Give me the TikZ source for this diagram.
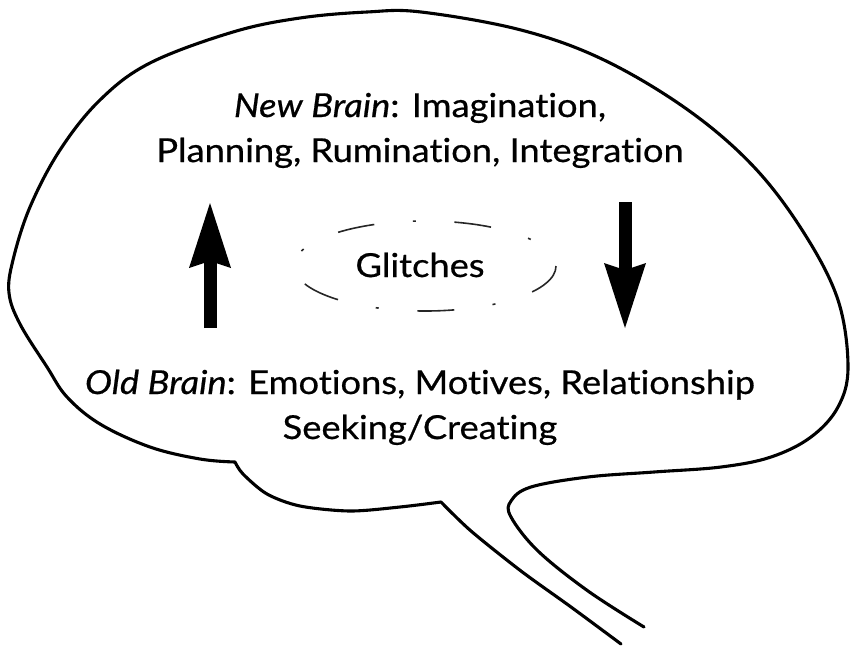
\documentclass[tikz,border=0pt]{standalone}
\usepackage{fontspec}
\setmainfont{Lato}[Ligatures=NoCommon, FakeStretch=1.1, FakeBold=0.6]
\usetikzlibrary{arrows.meta}
\tikzset{
  bubble/.style={line width=3.1pt, line cap=round, line join=round},
  brain/.style={font=\fontsize{33}{45}\selectfont, align=center, inner sep=0pt},
  flow/.style={line width=13pt, -{Stealth[length=65pt,width=42pt,inset=7pt,line width=0pt]}},
  glitchring/.style={line width=1.6pt, black!85, dash pattern=on 37pt off 38.7pt on 3pt off 38.6pt}
}
\begin{document}
\begin{tikzpicture}[x=1pt,y=-1pt]
\useasboundingbox (0,0) rectangle (851,648);
\draw[bubble] plot[smooth] coordinates {(621,644) (571,607) (521,571) (471,531) (441,502)}
  -- plot[smooth] coordinates {(441,502) (400,507) (350,511) (300,506) (267,494) (243,474) (235,462)}
  -- plot[smooth, tension=0.6] coordinates {(235,462) (200,459) (150,447) (100,424) (67,397) (47,367)
     (20,324) (9,293) (13,260) (30,207) (60,150) (100,100) (150,63) (233,32) (300,18) (367,12)
     (421,12) (521,30) (604,60) (688,110) (754,167) (804,233) (838,300) (848,367) (838,407)
     (811,437) (771,457) (721,467) (654,472) (588,477) (531,487) (511,501) (511,517) (538,551)
     (588,591) (644,627)};

\node[brain, anchor=base] (newbrain) at (420,162) {\textit{New Brain}: Imagination,\\Planning, Rumination, Integration};
\node[brain, anchor=base] (oldbrain) at (420,439) {\textit{Old Brain}: Emotions, Motives, Relationship\\Seeking/Creating};
\node[brain, anchor=base] (glitches) at (420,277) {Glitches};
\draw[glitchring] (425,266) ellipse [x radius=131, y radius=45];

\coordinate (upfoot) at (210,328);
\coordinate (uptip) at (210,203);
\coordinate (downtop) at (625,202);
\coordinate (downtip) at (625,328);
\draw[flow] (upfoot) -- (uptip);
\draw[flow] (downtop) -- (downtip);
\end{tikzpicture}
\end{document}
